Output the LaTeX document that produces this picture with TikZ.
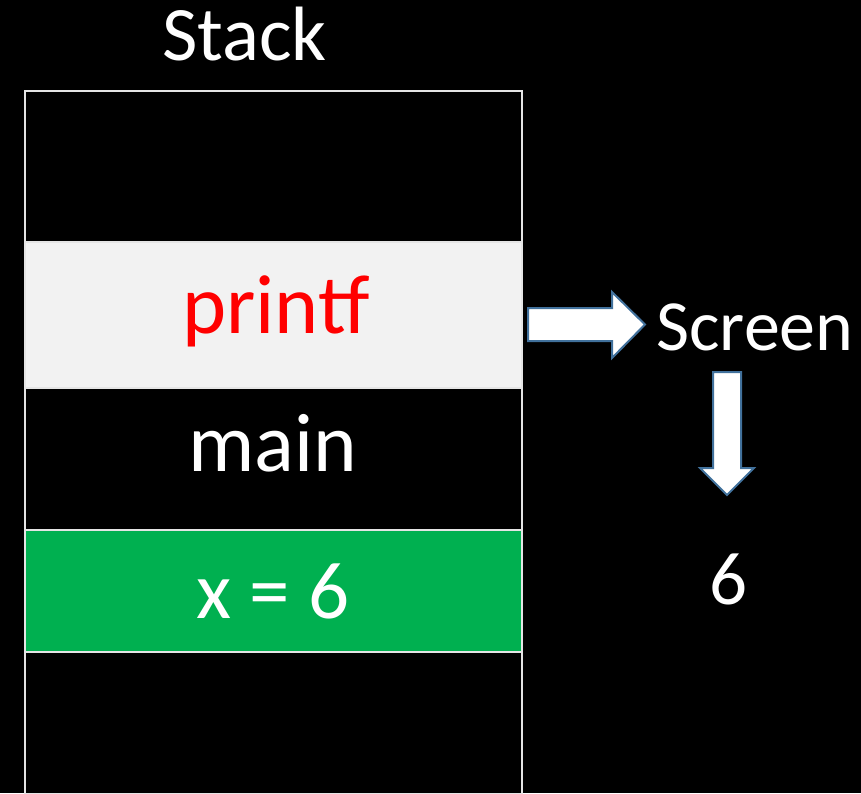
\documentclass[tikz,border=0pt]{standalone}
\usepackage{fontspec}
\setmainfont{Carlito}
\definecolor{rowgray}{HTML}{F2F2F2}
\definecolor{rowgreen}{HTML}{00B050}
\definecolor{arrowblue}{HTML}{41719C}
\begin{document}
\begin{tikzpicture}[x=1pt,y=-1pt,
  row/.style={draw=white!90!black, line width=2pt, minimum width=497pt, inner sep=0pt, anchor=north west},
  lbl/.style={inner sep=0pt, anchor=base, text=white},
  blockarrow/.style={draw=arrowblue, fill=white, line width=2pt, line join=miter}]
\fill[black] (0,0) rectangle (861,793);
\useasboundingbox (0,0) rectangle (861,793);
\node[row, fill=black, minimum height=151pt] (r1) at (24,90) {};
\node[row, fill=rowgray, minimum height=146pt] (r2) at (24,241) {};
\node[row, fill=black, minimum height=142pt] (r3) at (24,387) {};
\node[row, fill=rowgreen, minimum height=122pt] (r4) at (24,529) {};
\node[row, fill=black, minimum height=142pt] (r5) at (24,651) {};
\node[lbl] (stack) at (244.5,60) {\fontsize{77}{90}\selectfont Stack};
\node[lbl, text=red] (printf) at (276,333) {\fontsize{84}{96}\selectfont printf};
\node[lbl] (main) at (273,471) {\fontsize{83}{96}\selectfont main};
\node[lbl] (x6) at (273,618) {\fontsize{81}{96}\selectfont x = 6};
\node[lbl] (screen) at (755,350) {\fontsize{72}{84}\selectfont Screen};
\node[lbl] (six) at (728,604) {\fontsize{75}{88}\selectfont 6};
\draw[blockarrow] (528,308) -- (612,308) -- (612,292) -- (645,324.5) -- (612,358) -- (612,341) -- (528,341) -- cycle;
\draw[blockarrow] (713,372) -- (741,372) -- (741,468) -- (754,468) -- (727,495) -- (700,468) -- (713,468) -- cycle;
\end{tikzpicture}
\end{document}
